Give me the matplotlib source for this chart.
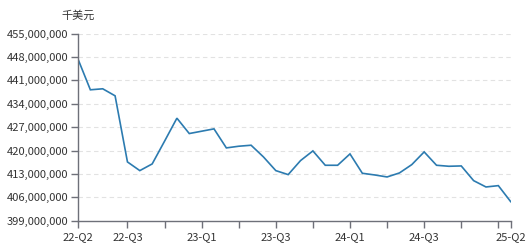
import numpy as np
import matplotlib.pyplot as plt
from matplotlib.ticker import FuncFormatter

plt.rcParams['font.family'] = ['Noto Sans CJK SC', 'DejaVu Sans']

# monthly values, unit: million USD (shown as thousand USD on axis)
values = [447.4, 438.2, 438.5, 436.4, 416.6, 414.0, 416.0, 422.8, 429.7, 425.1,
          425.8, 426.5, 420.8, 421.3, 421.6, 418.1, 414.0, 412.8, 417.0, 419.9,
          415.6, 415.6, 419.0, 413.2, 412.7, 412.1, 413.3, 415.8, 419.6, 415.6,
          415.3, 415.4, 411.0, 409.1, 409.5, 404.7]
# category labels shown on the axis (others left blank)
labels = {0: '22-Q2', 4: '22-Q3', 10: '23-Q1', 16: '23-Q3',
          22: '24-Q1', 28: '24-Q3', 35: '25-Q2'}
y_ticks = [399, 406, 413, 420, 427, 434, 441, 448, 455]
unit = '千美元'

n = len(values)
x = np.arange(n)
tick_idx = sorted(set([0, n - 1] + list(range(4, n, 3))))

fig = plt.figure(figsize=(5.29, 2.48), dpi=100)
ax = fig.add_axes([78 / 529, 1 - 220.7 / 248, (510.7 - 78) / 529, (220.7 - 33.7) / 248])

ax.plot(x, values, color='#2c7bb0', lw=1.2, solid_joinstyle='miter')

ax.set_xlim(0, n - 1)
ax.set_ylim(399, 455)
ax.set_yticks(y_ticks)
ax.yaxis.set_major_formatter(FuncFormatter(lambda v, p: f'{int(v * 1e6):,}'))
ax.set_xticks(tick_idx)
ax.set_xticklabels([labels.get(i, '') for i in tick_idx])

for v in y_ticks[1:]:
    ax.axhline(v, color='#e2e2e2', lw=0.8, ls=(0, (4, 3)), zorder=0)

for s in ['top', 'right']:
    ax.spines[s].set_visible(False)
for s in ['left', 'bottom']:
    ax.spines[s].set_color('#6e7079')
    ax.spines[s].set_linewidth(1)

ax.tick_params(axis='both', colors='#6e7079', length=5, width=1,
               labelsize=8, labelcolor='#333333', pad=2)
ax.tick_params(axis='x', pad=3)

ax.text(0, 1.0 + (33.7 - 16) / 187, unit, transform=ax.transAxes, ha='center',
        va='center', fontsize=8, color='#333333')

fig.savefig('out.png', dpi=100)
